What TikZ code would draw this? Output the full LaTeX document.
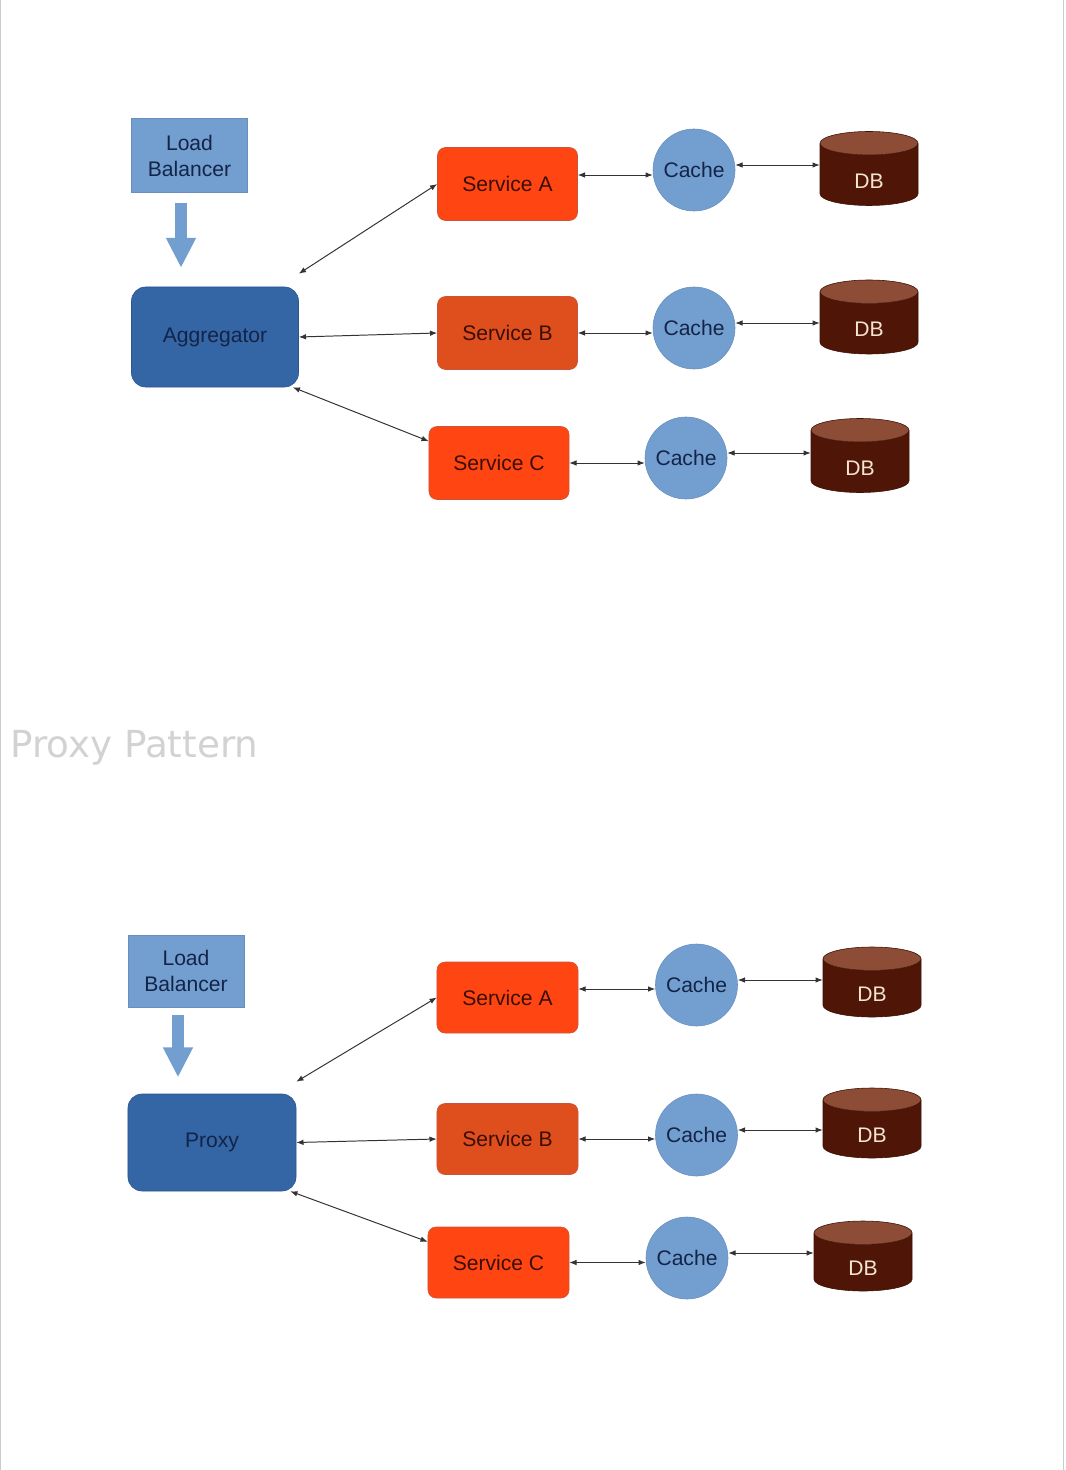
\documentclass[tikz,border=0pt]{standalone}
\usepackage{fontspec}
\setmainfont{Liberation Sans}
\newfontfamily\titlefont{DejaVu Sans}
\usetikzlibrary{positioning,shapes.geometric,arrows.meta}

\definecolor{lbblue}{HTML}{729FCF}
\definecolor{lbedge}{HTML}{6A8EC0}
\definecolor{aggblue}{HTML}{3465A4}
\definecolor{aggedge}{HTML}{2B5692}
\definecolor{navytext}{HTML}{142448}
\definecolor{svcred}{HTML}{FF4612}
\definecolor{svcdark}{HTML}{DF4F1E}
\definecolor{svcedge}{HTML}{C8553A}
\definecolor{svctext}{HTML}{3A0D06}
\definecolor{dbbody}{HTML}{4F1607}
\definecolor{dbtop}{HTML}{8C4C35}
\definecolor{dbedge}{HTML}{3C1106}
\definecolor{dbtext}{HTML}{F4E4D2}
\definecolor{linkgray}{HTML}{333333}
\definecolor{titlegray}{HTML}{D2D2D2}
\definecolor{framegray}{HTML}{CCCCCC}

% text of a DB cylinder, set a little below the shape's centre
\newcommand{\dblabel}{\raisebox{-0.34cm}[0pt][0pt]{DB}}

\begin{document}
\begin{tikzpicture}[x=0.025cm, y=-0.025cm,
  every node/.style={font=\fontsize{15}{18.5}\selectfont},
  lb/.style={rectangle, fill=lbblue, draw=lbedge, line width=0.5pt, text=navytext,
    align=center, minimum width=2.9cm, minimum height=1.85cm, inner sep=0pt},
  hub/.style={rectangle, rounded corners=0.35cm, fill=aggblue, draw=aggedge,
    text=navytext, minimum width=4.175cm, minimum height=2.5cm},
  svc/.style={rectangle, rounded corners=0.2cm, fill=svcred, draw=svcedge,
    text=svctext, minimum width=3.5cm, minimum height=1.825cm},
  cache/.style={circle, fill=lbblue, draw=lbedge, text=navytext,
    minimum size=2.05cm, inner sep=0pt},
  db/.style={cylinder, shape border rotate=90, aspect=0.8,
    cylinder uses custom fill, cylinder body fill=dbbody, cylinder end fill=dbtop,
    draw=dbedge, text=dbtext, minimum width=2.45cm, minimum height=1.85cm, inner sep=0pt},
  link/.style={linkgray, line width=0.7pt,
    {Latex[length=0.18cm,width=0.14cm]}-{Latex[length=0.18cm,width=0.14cm]}},
  down/.style={lbblue, line width=0.3cm, -{Triangle[width=0.7cm,length=0.75cm]}}]
  \useasboundingbox (0,0) rectangle (1065,1470);

  % page edges
  \draw[framegray, line width=0.7pt] (0.5,0) -- (0.5,1470);
  \draw[framegray, line width=1pt] (1063.5,0) -- (1063.5,1470);

  % aggregator pattern
  \node[lb] (lb1) at (189.5,155.5) {Load\\Balancer};
  \node[hub] (agg) at (215,337) {Aggregator};
  \node[svc] (sa1) at (507.5,184) {Service A};
  \node[svc, fill=svcdark] (sb1) at (507.5,333) {Service B};
  \node[svc] (sc1) at (499,463) {Service C};
  \node[cache] (ca1) at (694,170) {Cache};
  \node[cache] (cb1) at (694,328) {Cache};
  \node[cache] (cc1) at (686,458) {Cache};
  \node[db] (da1) at (869,174.5) {\dblabel};
  \node[db] (db1) at (869,323) {\dblabel};
  \node[db] (dc1) at (860,461.5) {\dblabel};

  \draw[down] ([xshift=-0.2125cm,yshift=-0.25cm]lb1.south) -- ++(0,65);
  \draw[link] ([yshift=0.325cm]agg.north east) -- (sa1.west);
  \draw[link] (agg.east) -- (sb1.west);
  \draw[link] ([xshift=-0.15cm]agg.south east) -- ([yshift=-0.375cm]sc1.north west);
  \draw[link] ([yshift=0.225cm]sa1.east) -- ([yshift=0.225cm]sa1.east -| ca1.west);
  \draw[link] ([yshift=0.125cm]ca1.east) -- ([yshift=0.125cm]ca1.east -| da1.west);
  \draw[link] (sb1.east) -- (sb1.east -| cb1.west);
  \draw[link] ([yshift=0.125cm]cb1.east) -- ([yshift=0.125cm]cb1.east -| db1.west);
  \draw[link] (sc1.east) -- (sc1.east -| cc1.west);
  \draw[link] ([yshift=0.125cm]cc1.east) -- ([yshift=0.125cm]cc1.east -| dc1.west);

  \node[font=\titlefont\fontsize{26.5}{30}\selectfont, text=titlegray,
    anchor=base west, inner sep=0pt] (title) at (10,757) {Proxy Pattern};

  % proxy pattern
  \node[lb, minimum height=1.8cm] (lb2) at (186,971) {Load\\Balancer};
  \node[hub, minimum width=4.2cm, minimum height=2.425cm] (prox) at (212,1142.5) {Proxy};
  \node[svc, minimum width=3.525cm, minimum height=1.775cm] (sa2) at (507.5,997.5) {Service A};
  \node[svc, fill=svcdark, minimum width=3.525cm, minimum height=1.775cm] (sb2) at (507.5,1139) {Service B};
  \node[svc, minimum width=3.525cm, minimum height=1.775cm] (sc2) at (498.5,1262.5) {Service C};
  \node[cache] (ca2) at (696.5,985) {Cache};
  \node[cache] (cb2) at (696.5,1135) {Cache};
  \node[cache] (cc2) at (687,1258) {Cache};
  \node[db, minimum height=1.75cm] (da2) at (872,988) {\dblabel};
  \node[db, minimum height=1.75cm] (db2) at (872,1129) {\dblabel};
  \node[db, minimum height=1.75cm] (dc2) at (863,1262) {\dblabel};

  \draw[down] ([xshift=-0.2cm,yshift=-0.2cm]lb2.south) -- ++(0,62);
  \draw[link] ([yshift=0.3cm]prox.north east) -- (sa2.west);
  \draw[link] (prox.east) -- (sb2.west);
  \draw[link] ([xshift=-0.15cm]prox.south east) -- ([yshift=-0.375cm]sc2.north west);
  \draw[link] ([yshift=0.2125cm]sa2.east) -- ([yshift=0.2125cm]sa2.east -| ca2.west);
  \draw[link] ([yshift=0.125cm]ca2.east) -- ([yshift=0.125cm]ca2.east -| da2.west);
  \draw[link] (sb2.east) -- (sb2.east -| cb2.west);
  \draw[link] ([yshift=0.125cm]cb2.east) -- ([yshift=0.125cm]cb2.east -| db2.west);
  \draw[link] (sc2.east) -- (sc2.east -| cc2.west);
  \draw[link] ([yshift=0.125cm]cc2.east) -- ([yshift=0.125cm]cc2.east -| dc2.west);
\end{tikzpicture}
\end{document}
